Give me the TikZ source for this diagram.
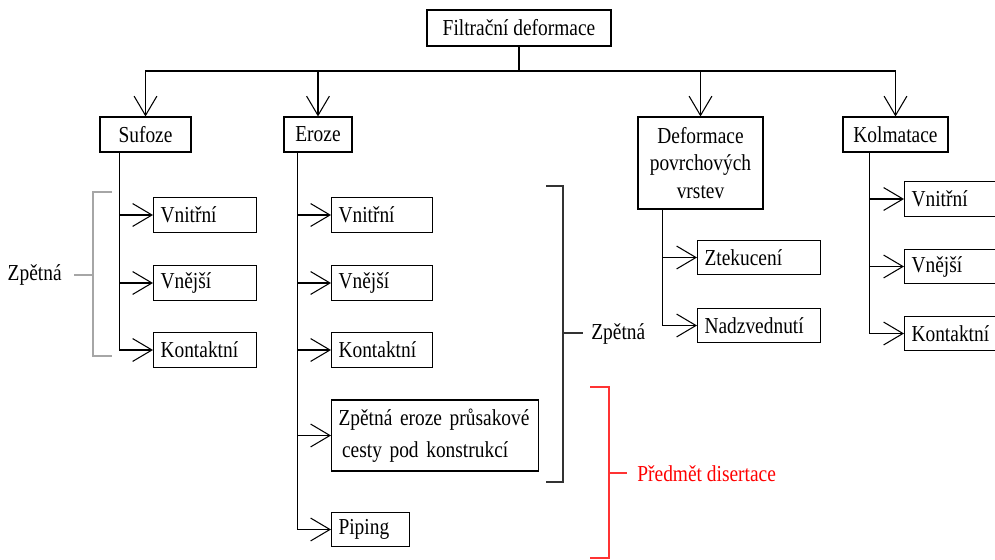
\documentclass[tikz,border=0pt]{standalone}
\usepackage{fontspec}
\setmainfont{Liberation Serif}[FakeStretch=0.85]
\usetikzlibrary{positioning,arrows.meta,calc}

\begin{document}
\begin{tikzpicture}[x=0.02cm,y=-0.02cm,line width=0.6pt,
    >={Straight Barb[length=11pt,width=13pt]},
    box/.style={draw,inner sep=2pt,minimum height=0.7cm,font=\fontsize{13}{15.5}\selectfont},
    leaf/.style={draw,anchor=west,align=left,inner xsep=4pt,inner ysep=2pt,
      minimum height=0.69cm,text width=#1,font=\fontsize{13}{15.5}\selectfont},
    brace/.style={line width=0.7pt}]
  \useasboundingbox (0,0) rectangle (995,560);
  % hlavni uroven
  \node[box,minimum width=3.68cm,minimum height=0.72cm] (filtr) at (519,28) {Filtrační deformace};
  \node[box,minimum width=1.82cm] (sufoze) at (145.5,134.5) {Sufoze};
  \node[box,minimum width=1.36cm] (eroze) at (318,134.5) {Eroze};
  \node[box,minimum width=2.5cm,minimum height=1.84cm,align=center] (povrch) at (700.5,163) {Deformace\\povrchových\\vrstev};
  \node[box,minimum width=2.1cm] (kolm) at (895.5,134.5) {Kolmatace};
  \coordinate (bus) at (519,71);
  \draw (filtr.south) -- (bus);
  \draw[->] (bus) -| (sufoze.north);
  \draw[->] (bus) -| (eroze.north);
  \draw[->] (bus) -| (povrch.north);
  \draw[->] (bus) -| (kolm.north);
  % sufoze
  \node[leaf=1.78cm] (s1) at (153,215) {Vnitřní};
  \node[leaf=1.78cm] (s2) at (153,283) {Vnější};
  \node[leaf=1.78cm] (s3) at (153,350) {Kontaktní};
  \coordinate (st) at ($(sufoze.south west)+(20,0)$);
  \foreach \n in {s1,s2,s3} \draw[->] (st) |- (\n.west);
  % eroze
  \node[leaf=1.74cm] (e1) at (331,215) {Vnitřní};
  \node[leaf=1.74cm] (e2) at (331,283) {Vnější};
  \node[leaf=1.74cm] (e3) at (331,350) {Kontaktní};
  \node[leaf=3.86cm,minimum height=1.42cm] (e4) at (331,435.5) {Zpětná eroze průsakové\\[2.5pt]\hspace{2pt}cesty pod konstrukcí};
  \node[leaf=1.28cm] (e5) at (331,529.5) {Piping};
  \coordinate (et) at ($(eroze.south west)+(14,0)$);
  \foreach \n in {e1,e2,e3,e4,e5} \draw[->] (et) |- (\n.west);
  % deformace povrchovych vrstev
  \node[leaf=2.18cm] (d1) at (697,257.5) {Ztekucení};
  \node[leaf=2.18cm] (d2) at (697,325.5) {Nadzvednutí};
  \coordinate (dt) at ($(povrch.south west)+(25,0)$);
  \foreach \n in {d1,d2} \draw[->] (dt) |- (\n.west);
  % kolmatace
  \node[leaf=1.92cm] (k1) at (904,199) {Vnitřní};
  \node[leaf=1.92cm] (k2) at (904,266.5) {Vnější};
  \node[leaf=1.92cm] (k3) at (904,333.5) {Kontaktní};
  \coordinate (kt) at ($(kolm.south west)+(27,0)$);
  \foreach \n in {k1,k2,k3} \draw[->] (kt) |- (\n.west);
  % zavorky
  \draw[brace,gray!70] (112,192) -- (93,192) -- (93,356) -- (112,356);
  \node[anchor=east,font=\fontsize{13}{15.5}\selectfont] (zp1) at (68,275) {Zpětná};
  \draw[brace,gray!70] (74,275) -- (93,275);
  \draw[brace,black!80] (546,186) -- (563,186) -- (563,482) -- (546,482);
  \draw[brace,black!80] (563,333) -- (583,333);
  \node[anchor=west,font=\fontsize{13}{15.5}\selectfont] (zp2) at (585,334) {Zpětná};
  \draw[brace,red!80] (590,387) -- (609,387) -- (609,558) -- (590,558);
  \draw[brace,red!80] (609,473) -- (627,473);
  \node[anchor=west,red,font=\fontsize{13}{15.5}\selectfont] (disert) at (631,474) {Předmět disertace};
\end{tikzpicture}
\end{document}
